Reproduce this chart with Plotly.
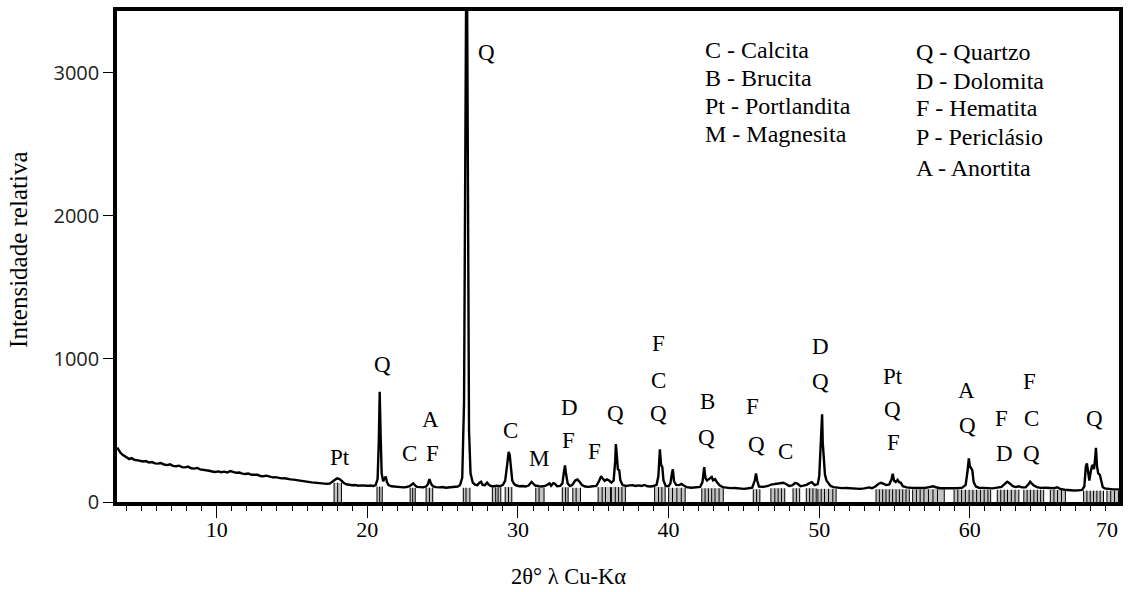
import plotly.graph_objects as go

# Diffraction pattern (2θ in degrees, counts)
two_theta = [
    3.40, 3.50, 3.60, 3.75, 3.90, 4.05, 4.20, 4.35, 4.50, 4.70, 4.90, 5.10, 5.30, 5.50, 5.70, 5.90,
    6.10, 6.30, 6.50, 6.70, 6.90, 7.10, 7.30, 7.50, 7.70, 7.90, 8.10, 8.30, 8.50, 8.70, 8.90, 9.10,
    9.30, 9.50, 9.70, 9.90, 10.10, 10.30, 10.50, 10.70, 10.90, 11.10, 11.30, 11.50, 11.70, 11.90,
    12.10, 12.30, 12.50, 12.70, 12.90, 13.10, 13.30, 13.50, 13.70, 13.90, 14.10, 14.30, 14.50,
    14.70, 14.90, 15.10, 15.30, 15.50, 15.70, 15.90, 16.10, 16.30, 16.50, 16.70, 16.90, 17.10,
    17.30, 17.50, 17.70, 17.85, 18.00, 18.15, 18.30, 18.45, 18.60, 18.80, 19.00, 19.20, 19.40,
    19.60, 19.80, 20.00, 20.20, 20.40, 20.55, 20.68, 20.76, 20.82, 20.88, 20.95, 21.05, 21.15,
    21.22, 21.30, 21.40, 21.60, 21.80, 22.00, 22.20, 22.40, 22.60, 22.80, 22.95, 23.05, 23.15,
    23.30, 23.50, 23.70, 23.90, 24.02, 24.12, 24.22, 24.35, 24.55, 24.80, 25.00, 25.20, 25.40,
    25.60, 25.80, 26.00, 26.15, 26.30, 26.42, 26.50, 26.56, 26.62, 26.68, 26.75, 26.85, 27.00,
    27.15, 27.30, 27.45, 27.55, 27.65, 27.80, 27.95, 28.05, 28.20, 28.40, 28.60, 28.80, 29.00,
    29.15, 29.28, 29.38, 29.45, 29.52, 29.62, 29.75, 29.90, 30.10, 30.30, 30.50, 30.70, 30.90,
    31.00, 31.15, 31.40, 31.60, 31.80, 32.00, 32.10, 32.20, 32.35, 32.45, 32.60, 32.80, 32.95,
    33.05, 33.12, 33.20, 33.30, 33.45, 33.60, 33.80, 33.95, 34.10, 34.25, 34.45, 34.70, 34.95,
    35.20, 35.40, 35.52, 35.62, 35.75, 35.90, 36.05, 36.20, 36.35, 36.45, 36.50, 36.56, 36.63,
    36.72, 36.80, 36.95, 37.20, 37.40, 37.60, 37.80, 38.00, 38.20, 38.40, 38.60, 38.80, 39.00,
    39.20, 39.32, 39.42, 39.50, 39.58, 39.66, 39.80, 40.00, 40.12, 40.22, 40.28, 40.36, 40.50,
    40.70, 40.85, 41.00, 41.20, 41.50, 41.80, 42.10, 42.25, 42.36, 42.45, 42.55, 42.65, 42.78,
    42.86, 42.95, 43.08, 43.20, 43.40, 43.60, 43.85, 44.10, 44.40, 44.70, 45.00, 45.30, 45.55,
    45.72, 45.80, 45.88, 46.00, 46.30, 46.60, 46.80, 47.00, 47.20, 47.40, 47.60, 47.80, 48.00,
    48.20, 48.40, 48.55, 48.75, 48.95, 49.15, 49.35, 49.50, 49.70, 49.90, 50.00, 50.08, 50.15,
    50.19, 50.23, 50.30, 50.38, 50.48, 50.60, 50.75, 50.95, 51.20, 51.50, 51.80, 52.10, 52.40,
    52.70, 53.00, 53.30, 53.50, 53.75, 53.95, 54.08, 54.25, 54.45, 54.65, 54.80, 54.88, 54.96,
    55.08, 55.20, 55.30, 55.42, 55.55, 55.80, 56.10, 56.40, 56.70, 57.00, 57.30, 57.55, 57.75,
    58.00, 58.30, 58.60, 58.90, 59.20, 59.50, 59.72, 59.85, 59.93, 60.00, 60.08, 60.16, 60.25,
    60.40, 60.60, 60.90, 61.20, 61.50, 61.80, 62.10, 62.30, 62.48, 62.65, 62.85, 63.05, 63.25,
    63.45, 63.70, 63.90, 64.00, 64.10, 64.25, 64.45, 64.70, 65.00, 65.30, 65.60, 65.80, 66.00,
    66.30, 66.60, 66.90, 67.20, 67.45, 67.60, 67.70, 67.77, 67.85, 67.93, 68.02, 68.10, 68.17,
    68.24, 68.31, 68.37, 68.44, 68.52, 68.63, 68.72, 68.82, 68.95, 69.20, 69.50, 69.90,
]
intensity = [
    380, 362, 345, 330, 318, 310, 300, 306, 296, 292, 288, 283, 286, 276, 279, 270,
    268, 272, 262, 258, 263, 252, 250, 254, 244, 242, 247, 236, 233, 238, 228, 226,
    221, 218, 213, 210, 214, 208, 212, 206, 216, 210, 204, 206, 198, 196,
    199, 190, 188, 190, 182, 180, 184, 176, 172, 174, 168, 165, 166,
    160, 158, 156, 152, 150, 146, 143, 141, 137, 135, 132, 130, 128,
    127, 128, 140, 155, 165, 160, 148, 132, 124, 120, 117, 119, 114,
    116, 112, 113, 115, 112, 118, 160, 420, 770, 480, 200, 145, 160,
    178, 140, 118, 110, 108, 104, 106, 102, 105, 110, 122, 130, 118,
    106, 104, 102, 108, 125, 160, 130, 110, 104, 102, 105, 100, 103,
    101, 104, 108, 118, 170, 700, 2600, 3600, 3600, 1600, 500, 200, 135,
    122, 118, 135, 142, 120, 118, 136, 122, 112, 110, 114, 110, 120,
    150, 260, 350, 330, 240, 150, 125, 115, 110, 112, 108, 115, 140,
    132, 115, 110, 108, 112, 128, 130, 114, 132, 128, 110, 112, 130,
    210, 255, 190, 130, 112, 118, 150, 157, 140, 118, 108, 106, 110,
    112, 150, 180, 165, 148, 158, 150, 135, 150, 280, 405, 330, 230,
    222, 150, 118, 112, 116, 118, 112, 116, 112, 119, 110, 108, 112,
    120, 180, 368, 260, 245, 150, 112, 110, 130, 200, 228, 145, 120,
    118, 126, 115, 104, 100, 102, 106, 140, 243, 165, 150, 158, 172,
    175, 152, 160, 140, 115, 104, 100, 97, 98, 94, 92, 96, 100,
    150, 200, 150, 108, 106, 112, 122, 125, 133, 131, 134, 126, 112,
    116, 133, 128, 110, 114, 120, 132, 138, 118, 125, 180, 350, 560,
    612, 420, 292, 190, 150, 132, 112, 104, 100, 97, 98, 95, 96,
    92, 95, 102, 96, 110, 128, 134, 128, 118, 122, 160, 198, 150,
    140, 155, 138, 134, 110, 102, 100, 98, 101, 98, 104, 110, 103,
    96, 97, 95, 98, 96, 100, 120, 220, 305, 250, 230, 222, 140,
    108, 100, 98, 97, 95, 100, 106, 125, 142, 130, 110, 104, 110,
    102, 103, 125, 142, 130, 115, 104, 99, 100, 98, 96, 102, 92,
    86, 82, 80, 81, 84, 110, 250, 270, 200, 150, 210, 250, 258,
    230, 300, 378, 250, 200, 190, 140, 105, 95, 90, 88, 88,
]

# Reference pattern sticks (2θ positions, grouped) and the height of each group
stick_groups = [
    [17.79, 18.03, 18.28],
    [20.64, 20.82, 20.99],
    [22.84, 23.01, 23.18],
    [23.90, 24.12, 24.34],
    [26.37, 26.55, 26.81],
    [28.30, 28.52, 28.68, 28.86],
    [29.15, 29.37, 29.59],
    [31.18, 31.40, 31.73],
    [32.94, 33.16, 33.33],
    [33.64, 33.86, 34.15],
    [35.32, 35.59, 35.81, 36.14],
    [36.20, 36.46, 36.68, 36.90, 37.13],
    [39.07, 39.33, 39.55, 39.77],
    [40.00, 40.26, 40.55, 40.84, 41.10],
    [42.20, 42.42, 42.64, 42.86, 43.08, 43.35, 43.63],
    [45.62, 45.84, 46.06],
    [46.79, 47.05, 47.27, 47.49, 47.71],
    [48.26, 48.48, 48.70],
    [49.14, 49.36, 49.58, 49.80],
    [49.91, 50.13, 50.35, 50.62, 50.90, 51.12],
    [53.77, 53.99, 54.21, 54.43, 54.65, 54.87, 55.10, 55.32, 55.54, 55.76, 55.98],
    [56.20, 56.45, 56.70, 56.95, 57.25, 57.55, 57.85, 58.30],
    [58.95, 59.20, 59.45, 59.70, 59.95, 60.20, 60.45, 60.70, 60.95, 61.20, 61.38],
    [61.82, 62.05, 62.28, 62.50, 62.75, 63.00, 63.25],
    [63.58, 63.80, 64.02, 64.25, 64.48, 64.70, 64.90],
    [65.34, 65.58, 65.82, 66.08, 66.34],
    [67.55, 67.77, 67.99, 68.21, 68.43, 68.65, 68.87],
    [69.10, 69.35, 69.60, 69.87],
]
stick_tops = [135, 108, 100, 100, 100, 102, 104, 100, 102, 100, 104, 104, 104, 100,
              95, 88, 95, 95, 95, 92, 88, 88, 86, 86, 86, 84, 80, 80]

# Phase identifications above the peaks: (symbol, 2θ, height)
peak_labels = [
    ("Pt", 18.17, 312), ("Q", 21.01, 958), ("C", 22.80, 340), ("A", 24.19, 576),
    ("F", 24.32, 340), ("Q", 27.89, 3139), ("C", 29.47, 500), ("M", 31.40, 306),
    ("D", 33.45, 660), ("F", 33.38, 431), ("F", 35.05, 354), ("Q", 36.50, 618),
    ("F", 39.34, 1104), ("C", 39.34, 847), ("Q", 39.34, 618), ("B", 42.57, 701),
    ("Q", 42.50, 451), ("F", 45.54, 667), ("Q", 45.81, 403), ("C", 47.73, 354),
    ("D", 50.05, 1083), ("Q", 50.11, 840), ("Pt", 54.87, 875), ("Q", 54.87, 646),
    ("F", 54.94, 417), ("A", 59.77, 778), ("Q", 59.83, 535), ("F", 62.08, 583),
    ("D", 62.28, 340), ("F", 63.94, 840), ("C", 64.07, 583), ("Q", 64.07, 340),
    ("Q", 68.24, 583),
]

phase_key_left = ["C - Calcita", "B - Brucita", "Pt - Portlandita", "M - Magnesita"]
phase_key_right = ["Q - Quartzo", "D - Dolomita", "F - Hematita", "P - Periclásio", "A - Anortita"]

x_ticks = [10, 20, 30, 40, 50, 60]
y_ticks = [0, 1000, 2000, 3000]

SERIF = "Liberation Serif, Times New Roman, serif"
SANS = "Open Sans"
X_RANGE = [3.38, 69.9]
Y_RANGE = [0, 3430]

fig = go.Figure()

# grey fill between neighbouring sticks of a group
bar_x, bar_w, bar_h = [], [], []
line_x, line_y = [], []
for group, top in zip(stick_groups, stick_tops):
    for a, b in zip(group[:-1], group[1:]):
        bar_x.append((a + b) / 2)
        bar_w.append(b - a)
        bar_h.append(top)
    for s in group:
        line_x += [s, s, None]
        line_y += [0, top, None]

fig.add_trace(go.Bar(x=bar_x, y=bar_h, width=bar_w, base=0,
                     marker=dict(color="#c4c4c4", line=dict(width=0)),
                     showlegend=False, hoverinfo="skip"))
fig.add_trace(go.Scatter(x=line_x, y=line_y, mode="lines",
                         line=dict(color="black", width=1),
                         showlegend=False, hoverinfo="skip"))

fig.add_trace(go.Scatter(x=two_theta, y=intensity, mode="lines",
                         line=dict(color="black", width=2.4),
                         showlegend=False))

annotations = []
for text, x, y in peak_labels:
    annotations.append(dict(x=x, y=y, xref="x", yref="y", text=text, showarrow=False,
                            xanchor="center", yanchor="middle",
                            font=dict(family=SERIF, size=23, color="black")))

# plot area in pixels: left 117, right 1123, top 8, bottom 502
def px_x(px):
    return (px - 117) / (1123 - 117)

def px_y(py):
    return (502 - py) / (502 - 8)

for i, t in enumerate(phase_key_left):
    annotations.append(dict(x=px_x(705), y=px_y(47 + i * 28.3), xref="paper", yref="paper",
                            text=t, showarrow=False, xanchor="left", yanchor="middle",
                            font=dict(family=SERIF, size=24, color="black")))
right_rows = [49, 78, 106, 135, 166]
for t, py in zip(phase_key_right, right_rows):
    annotations.append(dict(x=px_x(917), y=px_y(py), xref="paper", yref="paper",
                            text=t, showarrow=False, xanchor="left", yanchor="middle",
                            font=dict(family=SERIF, size=24, color="black")))

# last x tick label sits just inside the right frame
annotations.append(dict(x=69.1, y=px_y(530), xref="x", yref="paper", text="70",
                        showarrow=False, xanchor="center", yanchor="middle",
                        font=dict(family=SERIF, size=22, color="black")))

annotations.append(dict(x=px_x(570), y=px_y(577), xref="paper", yref="paper",
                        text="2θ° λ Cu-Kα", showarrow=False, xanchor="center",
                        yanchor="middle", font=dict(family=SERIF, size=22.5, color="black")))
annotations.append(dict(x=px_x(18), y=px_y(248), xref="paper", yref="paper",
                        text="Intensidade relativa", showarrow=False, textangle=-90,
                        xanchor="center", yanchor="middle",
                        font=dict(family=SERIF, size=25, color="black")))

fig.update_layout(
    width=1130, height=592,
    margin=dict(l=117, r=7, t=8, b=90),
    paper_bgcolor="white", plot_bgcolor="white",
    annotations=annotations,
    bargap=0,
    xaxis=dict(
        range=X_RANGE, tickvals=x_ticks, ticks="outside", ticklen=12, tickwidth=1.3,
        tickcolor="black", showgrid=False, zeroline=False,
        showline=True, linecolor="black", linewidth=3.5, mirror=True,
        tickfont=dict(family=SERIF, size=22, color="black"),
        ticklabelstandoff=-7,
        minor=dict(dtick=1, tick0=0, ticks="outside", ticklen=5, tickwidth=1, tickcolor="black"),
    ),
    yaxis=dict(
        range=Y_RANGE, tickvals=y_ticks, ticks="outside", ticklen=10, tickwidth=1.3,
        tickcolor="black", showgrid=False, zeroline=False,
        showline=True, linecolor="black", linewidth=3.5, mirror=True,
        tickfont=dict(family=SANS, size=20, color="#222222"),
    ),
)

fig.write_html("out.html")
